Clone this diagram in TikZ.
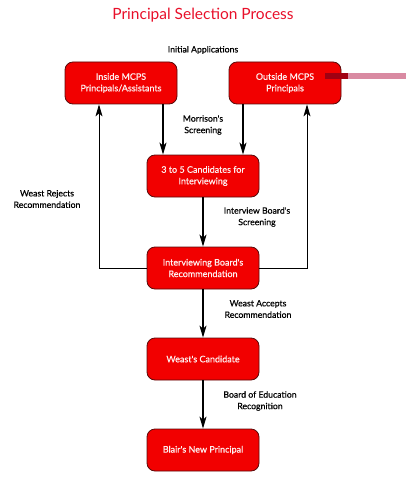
\documentclass[tikz,border=0pt]{standalone}
\usepackage{fontspec}
\setmainfont{Lato}
\newfontfamily\lblfont[FakeBold=0.5]{Lato}
\usetikzlibrary{arrows.meta}
\definecolor{boxred}{HTML}{F20000}
\definecolor{boxedge}{HTML}{5A0A0A}
\definecolor{titlered}{HTML}{E8102A}
\definecolor{barpink}{HTML}{D98AA2}
\definecolor{bardark}{HTML}{A00012}
\definecolor{boxtext}{HTML}{FFF0F0}
\begin{document}
\begin{tikzpicture}[x=1pt,y=-1pt,
 stepbox/.style={draw=boxedge, line width=0.8pt, fill=boxred, rounded corners=8pt, minimum width=112pt, minimum height=42pt, text=boxtext, align=center, font=\lblfont\fontsize{9}{11.5}\selectfont, inner sep=0pt},
 lbl/.style={align=center, font=\lblfont\fontsize{8.7}{11.5}\selectfont},
 arr/.style={-{Stealth[length=12pt,width=7pt,inset=3pt]}, line width=1.4pt},
 back/.style={-{Stealth[length=12pt,width=7pt,inset=3pt]}, line width=0.9pt}]
\useasboundingbox (0,0) rectangle (406,500);
\node[text=titlered, font=\fontsize{15.5}{18}\selectfont] (title) at (203,15) {Principal Selection Process};
\node[lbl] (init) at (203,50) {Initial Applications};
\node[stepbox] (inside) at (121,83) {Inside MCPS\\Principals/Assistants};
\node[stepbox] (outside) at (285,83) {Outside MCPS\\Principals};
\node[stepbox] (cand) at (203,176) {3 to 5 Candidates for\\Interviewing};
\node[stepbox] (board) at (203,268) {Interviewing Board's\\Recommendation};
\node[stepbox] (weast) at (203,359) {Weast's Candidate};
\node[stepbox] (blair) at (203,450) {Blair's New Principal};
% stray bar over the outside box
\fill[bardark] (325,73) rectangle (348,79);
\fill[barpink] (348,73) rectangle (406,79);
\draw[arr] ([xshift=42pt]inside.south) -- ([xshift=-40pt]cand.north);
\draw[arr] ([xshift=-42pt]outside.south) -- ([xshift=40pt]cand.north);
\draw[arr] (cand) -- (board);
\draw[arr] (board) -- (weast);
\draw[arr] (weast) -- (blair);
\draw[back] (board.west) -| ([xshift=-22pt]inside.south);
\draw[back] (board.east) -| ([xshift=22pt]outside.south);
\node[lbl] (l1) at (203,125) {Morrison's\\Screening};
\node[lbl] (l2) at (257,217) {Interview Board's\\Screening};
\node[lbl] (l3) at (47,199) {Weast Rejects\\Recommendation};
\node[lbl] (l4) at (258,309) {Weast Accepts\\Recommendation};
\node[lbl] (l5) at (260,401) {Board of Education\\Recognition};
\end{tikzpicture}
\end{document}
